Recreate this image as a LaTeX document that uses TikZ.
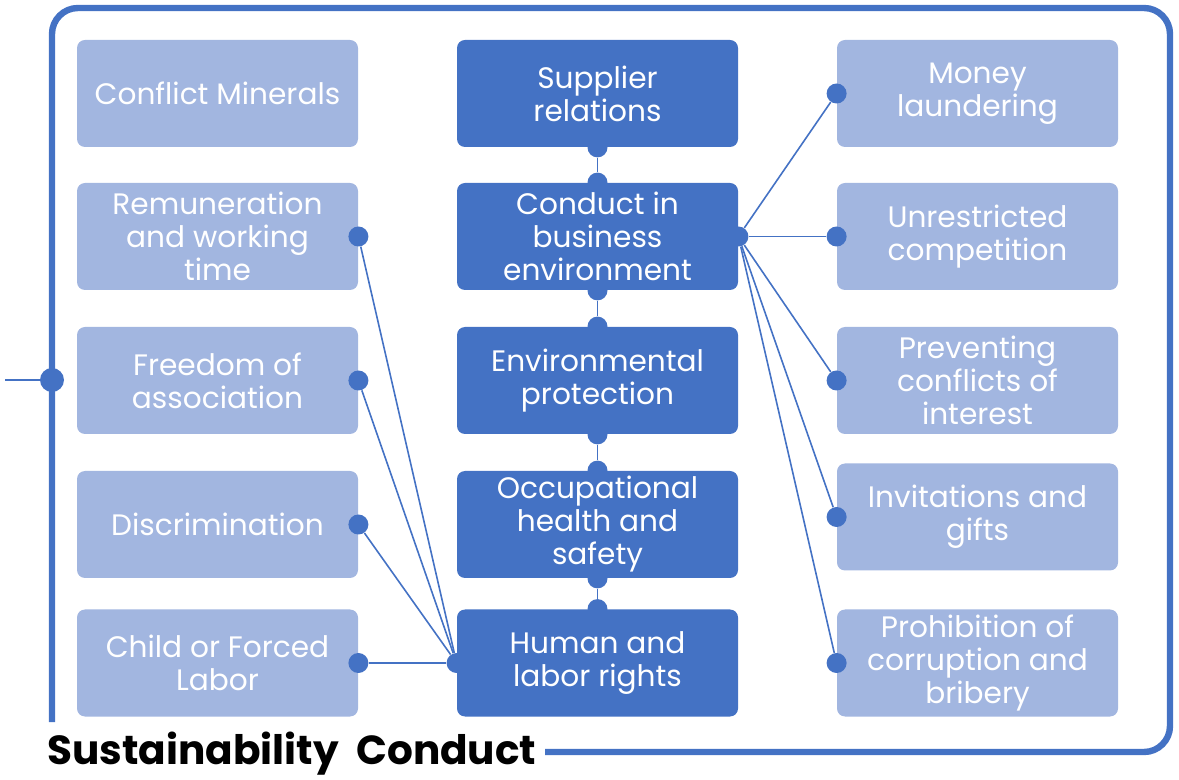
\documentclass[tikz,border=0pt]{standalone}
\usepackage{fontspec}
\setmainfont{Poppins}
\usepackage{tikz}

\definecolor{codeblue}{HTML}{4472C4}
\definecolor{codepale}{HTML}{A2B6E0}

\begin{document}
\begin{tikzpicture}[x=0.5pt,y=-0.5pt,
		topic/.style={fill=codepale, rounded corners=4pt, minimum width=140.5pt, minimum height=53.5pt,
			inner sep=0pt, align=center, text=white, font=\fontsize{14.8}{16.5}\selectfont},
		core/.style={topic, fill=codeblue},
		dot/.style={circle, fill=codeblue, inner sep=0pt, minimum size=10pt},
		link/.style={codeblue, line width=0.8pt},
		frame/.style={codeblue, line width=3.2pt, rounded corners=13pt}]
				\useasboundingbox (0,0) rectangle (1179,780);

				% left column
				\node[topic] (minerals) at (217.5,93.5) {Conflict Minerals};
				\node[topic] (pay) at (217.5,236.5) {Remuneration\\and working\\time};
				\node[topic] (assoc) at (217.5,380.5) {Freedom of\\association};
				\node[topic] (discr) at (217.5,524.5) {Discrimination};
				\node[topic] (child) at (217.5,663) {Child or Forced\\Labor};

				% middle column
				\node[core] (supplier) at (597.5,93.5) {Supplier\\relations};
				\node[core] (business) at (597.5,236.5) {Conduct in\\business\\environment};
				\node[core] (environ) at (597.5,380.5) {Environmental\\protection};
				\node[core] (health) at (597.5,524.5) {Occupational\\health and\\safety};
				\node[core] (rights) at (597.5,663) {Human and\\labor rights};

				% right column
				\node[topic] (money) at (977.5,93.5) {Money\\laundering};
				\node[topic] (compet) at (977.5,236.5) {Unrestricted\\competition};
				\node[topic] (conflict) at (977.5,380.5) {Preventing\\conflicts of\\interest};
				\node[topic] (gifts) at (977.5,517) {Invitations and\\gifts};
				\node[topic] (bribe) at (977.5,663) {Prohibition of\\corruption and\\bribery};

				\node[anchor=west, font=\fontsize{20.3}{23}\selectfont\bfseries, inner sep=0pt] (title) at (47,754) {Sustainability~~Conduct};

				% frame
				\coordinate (fstart) at (545,752);
				\coordinate (fend) at (52,722);
				\draw[frame] (fstart) -- (1170,752) -- (1170,8) -- (52,8) -- (fend);
				\node[dot, minimum size=12pt] (fdot) at (52,380) {};
				\coordinate (feed) at (5,380);
				\draw[link] (feed) -- (fdot);

				% dots
				\node[dot] (s1) at (supplier.south) {};
				\node[dot] (b1) at (business.north) {};
				\node[dot] (b2) at (business.south) {};
				\node[dot] (e1) at (environ.north) {};
				\node[dot] (e2) at (environ.south) {};
				\node[dot] (h1) at (health.north) {};
				\node[dot] (h2) at (health.south) {};
				\node[dot] (r1) at (rights.north) {};
				\node[dot] (bhub) at (business.east) {};
				\node[dot] (rhub) at (rights.west) {};
				\foreach \n in {pay,assoc,discr,child}
				\node[dot] (\n-d) at (\n.east) {};
				\foreach \n in {money,compet,conflict,gifts,bribe}
				\node[dot] (\n-d) at (\n.west) {};

				% connectors
				\draw[link] (s1) -- (b1);
				\draw[link] (b2) -- (e1);
				\draw[link] (e2) -- (h1);
				\draw[link] (h2) -- (r1);
				\foreach \n in {money,compet,conflict,gifts,bribe}
				\draw[link] (bhub) -- (\n-d);
				\foreach \n in {pay,assoc,discr,child}
				\draw[link] (rhub) -- (\n-d);

			\end{tikzpicture}
\end{document}
